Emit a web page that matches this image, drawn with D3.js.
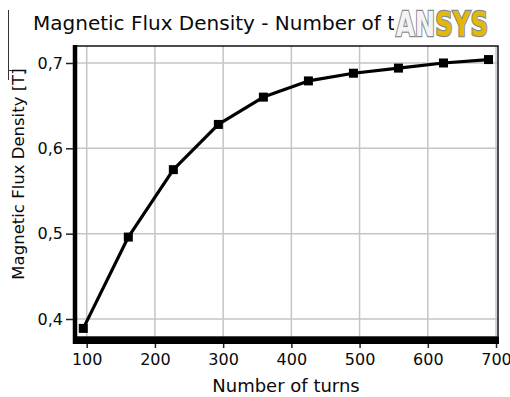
<!DOCTYPE html>
<html>
<head>
<meta charset="utf-8">
<script src="https://cdn.jsdelivr.net/npm/d3@7"></script>
<style>
  html, body { margin: 0; padding: 0; background: #fff; }
  svg { display: block; font-family: "DejaVu Sans", sans-serif; }
</style>
</head>
<body>
<div id="chart"></div>
<script>
const turns = [95, 161, 227, 293, 359, 425, 491, 557, 623, 689];
const flux = [0.389, 0.496, 0.575, 0.628, 0.660, 0.679, 0.688, 0.694, 0.700, 0.704];
const xTicks = [100, 200, 300, 400, 500, 600, 700];
const yTicks = [0.4, 0.5, 0.6, 0.7];

const width = 510;
const height = 397;
const gridColor = '#c4c4c4';
const textColor = '#0a0a0a';

const plot = {left: 75, right: 498, top: 46, bottom: 337};

const svg = d3.select('#chart')
  .append('svg')
  .attr('width', width)
  .attr('height', height);

const xScale = d3.scaleLinear()
  .domain([82.85, 702.9])
  .range([plot.left, plot.right]);

const yScale = d3.scaleLinear()
  .domain([0.3789, 0.7199])
  .range([plot.bottom, plot.top]);

const data = turns.map((t, i) => ({t, v: flux[i]}));

// crop artefact at top left
svg.append('path')
  .attr('d', 'M8.5,10 V80 M8.5,70.5 H25 V74')
  .attr('fill', 'none')
  .attr('stroke', '#333')
  .attr('stroke-width', 1);

// grid
const grid = svg.append('g').attr('class', 'grid');
grid.selectAll('.vgrid')
  .data(xTicks)
  .enter()
  .append('line')
  .attr('x1', d => xScale(d))
  .attr('x2', d => xScale(d))
  .attr('y1', plot.top)
  .attr('y2', plot.bottom)
  .attr('stroke', gridColor)
  .attr('stroke-width', 1.5);

grid.selectAll('.hgrid')
  .data(yTicks)
  .enter()
  .append('line')
  .attr('x1', plot.left)
  .attr('x2', plot.right)
  .attr('y1', d => yScale(d))
  .attr('y2', d => yScale(d))
  .attr('stroke', gridColor)
  .attr('stroke-width', 1.5);

// axes
const fmt = d => d3.format('.1f')(d).replace('.', ',');

const yAxis = svg.append('g')
  .attr('transform', `translate(${plot.left - 2}, 0)`)
  .call(d3.axisLeft(yScale).tickValues(yTicks).tickFormat(fmt).tickSize(7).tickPadding(3));
yAxis.select('.domain').remove();
yAxis.selectAll('line').attr('stroke', '#222').attr('stroke-width', 1.5);
yAxis.selectAll('text')
  .attr('fill', textColor)
  .style('font-size', '16px')
  .style('font-weight', 500)
  .style('font-family', '"DejaVu Sans", sans-serif');

const xAxis = svg.append('g')
  .attr('transform', `translate(0, ${plot.bottom + 7})`)
  .call(d3.axisBottom(xScale).tickValues(xTicks).tickSize(4).tickPadding(6));
xAxis.select('.domain').remove();
xAxis.selectAll('line').attr('stroke', '#222').attr('stroke-width', 1.5);
xAxis.selectAll('text')
  .attr('fill', textColor)
  .style('font-size', '16px')
  .style('font-weight', 500)
  .style('font-family', '"DejaVu Sans", sans-serif');

// frame
svg.append('rect')
  .attr('x', plot.left)
  .attr('y', plot.top)
  .attr('width', plot.right - plot.left)
  .attr('height', plot.bottom - plot.top)
  .attr('fill', 'none')
  .attr('stroke', '#111')
  .attr('stroke-width', 1.5);

svg.append('line')
  .attr('x1', plot.left)
  .attr('x2', plot.left)
  .attr('y1', plot.top - 1)
  .attr('y2', plot.bottom + 7)
  .attr('stroke', '#000')
  .attr('stroke-width', 4.5);

svg.append('line')
  .attr('x1', plot.left - 2)
  .attr('x2', plot.right + 1)
  .attr('y1', plot.bottom + 3.5)
  .attr('y2', plot.bottom + 3.5)
  .attr('stroke', '#000')
  .attr('stroke-width', 7);

// series
const line = d3.line()
  .x(d => xScale(d.t))
  .y(d => yScale(d.v));

svg.append('path')
  .datum(data)
  .attr('d', line)
  .attr('fill', 'none')
  .attr('stroke', '#000')
  .attr('stroke-width', 3.2)
  .attr('stroke-linejoin', 'round');

const markerSize = 9;
svg.selectAll('.marker')
  .data(data)
  .enter()
  .append('rect')
  .attr('x', d => xScale(d.t) - markerSize / 2)
  .attr('y', d => yScale(d.v) - markerSize / 2)
  .attr('width', markerSize)
  .attr('height', markerSize)
  .attr('fill', '#000');

// labels
svg.append('text')
  .attr('x', 33)
  .attr('y', 30)
  .attr('fill', textColor)
  .style('font-size', '20px')
  .text('Magnetic Flux Density - Number of turns');

svg.append('text')
  .attr('transform', `translate(24, 174) rotate(-90)`)
  .attr('text-anchor', 'middle')
  .attr('fill', textColor)
  .style('font-size', '16.5px')
  .text('Magnetic Flux Density [T]');

svg.append('text')
  .attr('x', 286)
  .attr('y', 392)
  .attr('text-anchor', 'middle')
  .attr('fill', textColor)
  .style('font-size', '18px')
  .text('Number of turns');

// logo (covers the end of the title, as in the source image)
const logo = svg.append('g').attr('class', 'logo');
logo.append('rect')
  .attr('x', 394)
  .attr('y', 4)
  .attr('width', 100)
  .attr('height', 36)
  .attr('fill', '#fff');

const logoText = logo.append('text')
  .attr('x', 396)
  .attr('y', 36)
  .attr('textLength', 92)
  .attr('lengthAdjust', 'spacingAndGlyphs')
  .style('font-size', '33px')
  .style('font-weight', 'bold')
  .style('font-family', '"DejaVu Sans", sans-serif')
  .attr('stroke', '#8a8a8a')
  .attr('stroke-width', 2.5)
  .attr('paint-order', 'stroke');
logoText.append('tspan').attr('fill', '#f4f4f4').text('AN');
logoText.append('tspan').attr('fill', '#e2b90a').text('SYS');
</script>
</body>
</html>
